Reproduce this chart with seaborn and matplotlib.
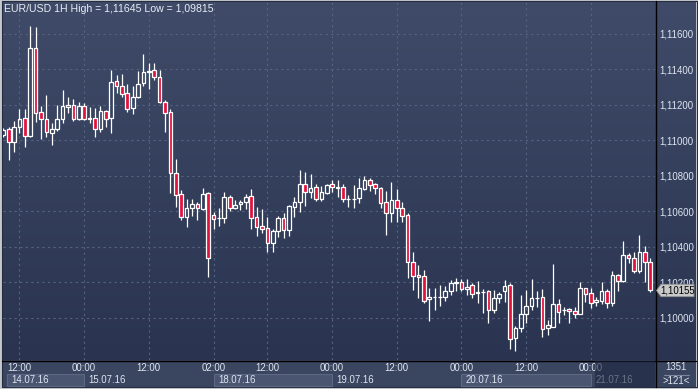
import numpy as np
import matplotlib
matplotlib.use("Agg")
import matplotlib.pyplot as plt
import seaborn as sns
from matplotlib.patches import Rectangle, Polygon
from matplotlib.colors import LinearSegmentedColormap
from matplotlib.transforms import blended_transform_factory

# ---------------- data (EUR/USD, 1H candles) ----------------
opens = [1.11031, 1.11065, 1.10990, 1.11074, 1.11125, 1.11027, 1.11519, 1.11159, 1.11119, 1.11041,
         1.11063, 1.11119, 1.11187, 1.11198, 1.11119, 1.11194, 1.11123, 1.11125, 1.11063, 1.11166,
         1.11128, 1.11334, 1.11305, 1.11266, 1.11181, 1.11247, 1.11322, 1.11384, 1.11399, 1.11356,
         1.11215, 1.11159, 1.10815, 1.10697, 1.10571, 1.10618, 1.10642, 1.10614, 1.10703, 1.10580,
         1.10565, 1.10565, 1.10682, 1.10618, 1.10641, 1.10652, 1.10687, 1.10567, 1.10518, 1.10505,
         1.10424, 1.10490, 1.10562, 1.10496, 1.10627, 1.10655, 1.10753, 1.10712, 1.10738, 1.10672,
         1.10706, 1.10753, 1.10731, 1.10736, 1.10672, 1.10672, 1.10678, 1.10725, 1.10778, 1.10755,
         1.10731, 1.10652, 1.10590, 1.10665, 1.10618, 1.10580, 1.10314, 1.10242, 1.10235, 1.10105,
         1.10117, 1.10120, 1.10117, 1.10154, 1.10199, 1.10201, 1.10162, 1.10184, 1.10143, 1.10148,
         1.10152, 1.10043, 1.10111, 1.10154, 1.10186, 1.09886, 1.09945, 1.10021, 1.10068, 1.10111,
         1.10117, 1.09942, 1.09951, 1.10077, 1.10043, 1.10049, 1.10039, 1.10024, 1.10167, 1.10139,
         1.10092, 1.10096, 1.10154, 1.10083, 1.10242, 1.10210, 1.10355, 1.10336, 1.10266, 1.10370,
         1.10317]
highs = [1.11070, 1.11078, 1.11110, 1.11176, 1.11176, 1.11645, 1.11640, 1.11194, 1.11256, 1.11097,
         1.11200, 1.11285, 1.11247, 1.11234, 1.11215, 1.11210, 1.11189, 1.11185, 1.11194, 1.11172,
         1.11397, 1.11369, 1.11375, 1.11317, 1.11307, 1.11392, 1.11487, 1.11435, 1.11438, 1.11397,
         1.11228, 1.11176, 1.10897, 1.10721, 1.10669, 1.10669, 1.10655, 1.10734, 1.10710, 1.10596,
         1.10618, 1.10708, 1.10691, 1.10665, 1.10665, 1.10699, 1.10727, 1.10624, 1.10614, 1.10567,
         1.10501, 1.10576, 1.10590, 1.10637, 1.10683, 1.10834, 1.10821, 1.10810, 1.10755, 1.10744,
         1.10755, 1.10778, 1.10778, 1.10755, 1.10693, 1.10749, 1.10787, 1.10800, 1.10787, 1.10762,
         1.10736, 1.10716, 1.10765, 1.10725, 1.10655, 1.10593, 1.10374, 1.10299, 1.10270, 1.10171,
         1.10167, 1.10186, 1.10180, 1.10214, 1.10224, 1.10218, 1.10218, 1.10196, 1.10208, 1.10162,
         1.10158, 1.10158, 1.10148, 1.10214, 1.10196, 1.09955, 1.10130, 1.10158, 1.10218, 1.10154,
         1.10163, 1.09989, 1.10303, 1.10107, 1.10060, 1.10055, 1.10060, 1.10205, 1.10169, 1.10167,
         1.10117, 1.10205, 1.10163, 1.10265, 1.10248, 1.10434, 1.10365, 1.10374, 1.10468, 1.10407,
         1.10336]
lows = [1.11020, 1.10890, 1.10937, 1.11041, 1.10965, 1.11021, 1.11106, 1.11007, 1.11021, 1.10975,
        1.11055, 1.11100, 1.11157, 1.11112, 1.11116, 1.11116, 1.11097, 1.11021, 1.11046, 1.11074,
        1.11041, 1.11269, 1.11247, 1.11162, 1.11148, 1.11238, 1.11309, 1.11289, 1.11341, 1.11210,
        1.11050, 1.10706, 1.10627, 1.10552, 1.10514, 1.10575, 1.10552, 1.10608, 1.10233, 1.10501,
        1.10520, 1.10534, 1.10603, 1.10614, 1.10608, 1.10614, 1.10501, 1.10462, 1.10477, 1.10370,
        1.10374, 1.10458, 1.10452, 1.10464, 1.10567, 1.10599, 1.10633, 1.10678, 1.10661, 1.10661,
        1.10699, 1.10712, 1.10683, 1.10655, 1.10627, 1.10621, 1.10646, 1.10721, 1.10717, 1.10697,
        1.10618, 1.10468, 1.10543, 1.10543, 1.10543, 1.10224, 1.10158, 1.10111, 1.10083, 1.09985,
        1.10045, 1.10069, 1.10097, 1.10130, 1.10154, 1.10154, 1.10130, 1.10111, 1.10083, 1.10030,
        1.09970, 1.10030, 1.10083, 1.10092, 1.09824, 1.09815, 1.09923, 1.09970, 1.10045, 1.10064,
        1.09895, 1.09904, 1.09947, 1.09974, 1.10017, 1.09974, 1.09998, 1.10021, 1.10092, 1.10058,
        1.10068, 1.10077, 1.10058, 1.10068, 1.10154, 1.10201, 1.10308, 1.10255, 1.10255, 1.10205,
        1.10145]
closes = [1.11059, 1.10990, 1.11074, 1.11119, 1.11027, 1.11519, 1.11153, 1.11119, 1.11046, 1.11063,
          1.11119, 1.11194, 1.11202, 1.11119, 1.11194, 1.11123, 1.11124, 1.11063, 1.11166, 1.11123,
          1.11328, 1.11307, 1.11262, 1.11176, 1.11247, 1.11317, 1.11384, 1.11393, 1.11356, 1.11215,
          1.11153, 1.10815, 1.10693, 1.10567, 1.10618, 1.10642, 1.10618, 1.10699, 1.10336, 1.10556,
          1.10566, 1.10682, 1.10618, 1.10637, 1.10654, 1.10682, 1.10565, 1.10511, 1.10503, 1.10421,
          1.10490, 1.10562, 1.10496, 1.10631, 1.10652, 1.10753, 1.10708, 1.10731, 1.10669, 1.10708,
          1.10749, 1.10736, 1.10738, 1.10669, 1.10673, 1.10673, 1.10731, 1.10778, 1.10749, 1.10731,
          1.10646, 1.10590, 1.10665, 1.10618, 1.10576, 1.10314, 1.10238, 1.10229, 1.10097, 1.10117,
          1.10118, 1.10121, 1.10154, 1.10196, 1.10200, 1.10162, 1.10176, 1.10134, 1.10144, 1.10149,
          1.10043, 1.10111, 1.10134, 1.10180, 1.09880, 1.09945, 1.10021, 1.10068, 1.10111, 1.10112,
          1.09936, 1.09959, 1.10077, 1.10032, 1.10044, 1.10038, 1.10021, 1.10167, 1.10135, 1.10086,
          1.10101, 1.10154, 1.10086, 1.10242, 1.10210, 1.10355, 1.10336, 1.10266, 1.10370, 1.10317,
          1.10155]

time_tick_idx = [3, 15, 27, 39, 49, 61, 73, 85, 97, 109]
time_tick_labels = ["12:00", "00:00", "12:00", "02:00", "12:00", "00:00", "12:00", "00:00", "12:00", "00:00"]
date_labels = ["14.07.16", "15.07.16", "18.07.16", "19.07.16", "20.07.16", "21.07.16"]
date_starts = [0.75, 15, 39, 61, 85, 109]
date_ends = [15, 39, 61, 85, 109, 121]
date_boxed = [True, False, True, False, True, False]
price_ticks = [1.100, 1.102, 1.104, 1.106, 1.108, 1.110, 1.112, 1.114, 1.116]
price_tick_labels = ["1,10000", "1,10200", "1,10400", "1,10600", "1,10800",
                     "1,11000", "1,11200", "1,11400", "1,11600"]
title_text = "EUR/USD 1H High = 1,11645 Low = 1,09815"
last_label = "1,10155"
bars_total = "1351"
bars_visible = ">121<"

# ---------------- style ----------------
sns.set_style("dark")
plt.rcParams['font.family'] = ['Liberation Sans', 'DejaVu Sans']
TXT = '#dfe6f2'
RED = '#e3123c'
GRID = '#56637f'
FS = 6.9

W, H = 698, 389
fig = plt.figure(figsize=(W / 100, H / 100), dpi=100)
fig.patch.set_facecolor('#c4c8d0')


def fr(x0, y0, x1, y1):
    return [x0 / W, 1 - y1 / H, (x1 - x0) / W, (y1 - y0) / H]


# background layer (pixel coordinates)
bg = fig.add_axes([0, 0, 1, 1], zorder=0)
bg.axis('off')
cmap = LinearSegmentedColormap.from_list('bg', ['#3f4b68', '#2a3451'])
grad = np.linspace(0, 1, 256)[:, None]
bg.imshow(grad, cmap=cmap, extent=(2, 696, 360, 1), aspect='auto', origin='upper', interpolation='bilinear')
bg.add_patch(Rectangle((2, 360), 694, 26.5, facecolor='#3a4560', edgecolor='none'))
bg.add_patch(Rectangle((1.5, 0.5), 695, 386.5, facecolor='none', edgecolor='#262d3d', lw=0.8))
bg.set_xlim(0, W)
bg.set_ylim(H, 0)

# main price axes
ax = fig.add_axes(fr(3, 2, 655, 360), zorder=1)
ax.set_facecolor('none')
ymin = 1.1 - 42 / 17750
ymax = 1.1 + 316 / 17750
ax.set_xlim(-0.06, 120.9)
ax.set_ylim(ymin, ymax)
for s in ax.spines.values():
    s.set_visible(False)

idx = np.arange(len(opens))
o = np.array(opens); h = np.array(highs); l = np.array(lows); c = np.array(closes)
top = np.maximum(o, c)
bot = np.minimum(o, c)
up = c >= o

ax.vlines(idx, top, h, color='white', lw=0.9, zorder=3)
ax.vlines(idx, l, bot, color='white', lw=0.9, zorder=3)
ax.bar(idx[up], (top - bot)[up], bottom=bot[up], width=0.68,
       facecolor='none', edgecolor='white', lw=0.9, zorder=4)
ax.bar(idx[~up], (top - bot)[~up], bottom=bot[~up], width=0.68,
       facecolor=RED, edgecolor='white', lw=0.9, zorder=4)

ax.set_yticks(price_ticks)
ax.set_yticklabels(price_tick_labels)
ax.set_xticks(time_tick_idx)
ax.set_xticklabels(time_tick_labels)
ax.grid(True, color=GRID, ls=(0, (2, 3)), lw=0.8)
ax.set_axisbelow(True)
ax.yaxis.tick_right()
ax.tick_params(axis='y', length=0, pad=3, labelsize=FS, labelcolor=TXT)
ax.tick_params(axis='x', length=0, pad=2.5, labelsize=FS, labelcolor=TXT)

# date row
tr = blended_transform_factory(ax.transData, bg.transData)
for lab, s0, s1, boxed in zip(date_labels, date_starts, date_ends, date_boxed):
    if boxed:
        bg.add_patch(Rectangle((s0, 373.5), s1 - s0, 12.5, transform=tr,
                               facecolor='#4a5671', edgecolor='#5d6984', lw=0.8, zorder=2))
    bg.text(s0 + 0.8, 380, lab, transform=tr, fontsize=FS, color=TXT,
            ha='left', va='center', zorder=3)

# separators
bg.plot([655.5, 655.5], [1, 386.5], color='black', lw=1.0, zorder=5)
bg.plot([2, 696], [360.5, 360.5], color='black', lw=1.0, zorder=5)

# foreground layer
fg = fig.add_axes([0, 0, 1, 1], zorder=3)
fg.axis('off')
fg.set_xlim(0, W)
fg.set_ylim(H, 0)
fg.add_patch(Rectangle((595, 361), 60, 25.5, facecolor='#1d2640', alpha=0.6, edgecolor='none'))
fg.text(4, 9, title_text, fontsize=7.6, color='#e8edf5', ha='left', va='center')

# last price tag
trp = blended_transform_factory(fg.transData, ax.transData)
last = closes[-1]
hh = 6.2 / 17750
fg.add_patch(Polygon([(656.5, last), (661, last + hh), (694, last + hh), (694, last - hh), (661, last - hh)],
                     closed=True, transform=trp, facecolor='#c9c9c9', edgecolor='#8f8f8f', lw=0.6, zorder=6))
fg.text(677.5, last, last_label, transform=trp, fontsize=FS, color='black', ha='center', va='center', zorder=7)

# bottom-right cell
fg.text(676, 367.5, bars_total, fontsize=FS, color=TXT, ha='center', va='center')
fg.plot([664, 689], [374.5, 374.5], color='#7c879d', lw=0.8)
fg.text(676, 380.5, bars_visible, fontsize=FS, color=TXT, ha='center', va='center')

fig.savefig('out.png', dpi=100, facecolor=fig.get_facecolor())
